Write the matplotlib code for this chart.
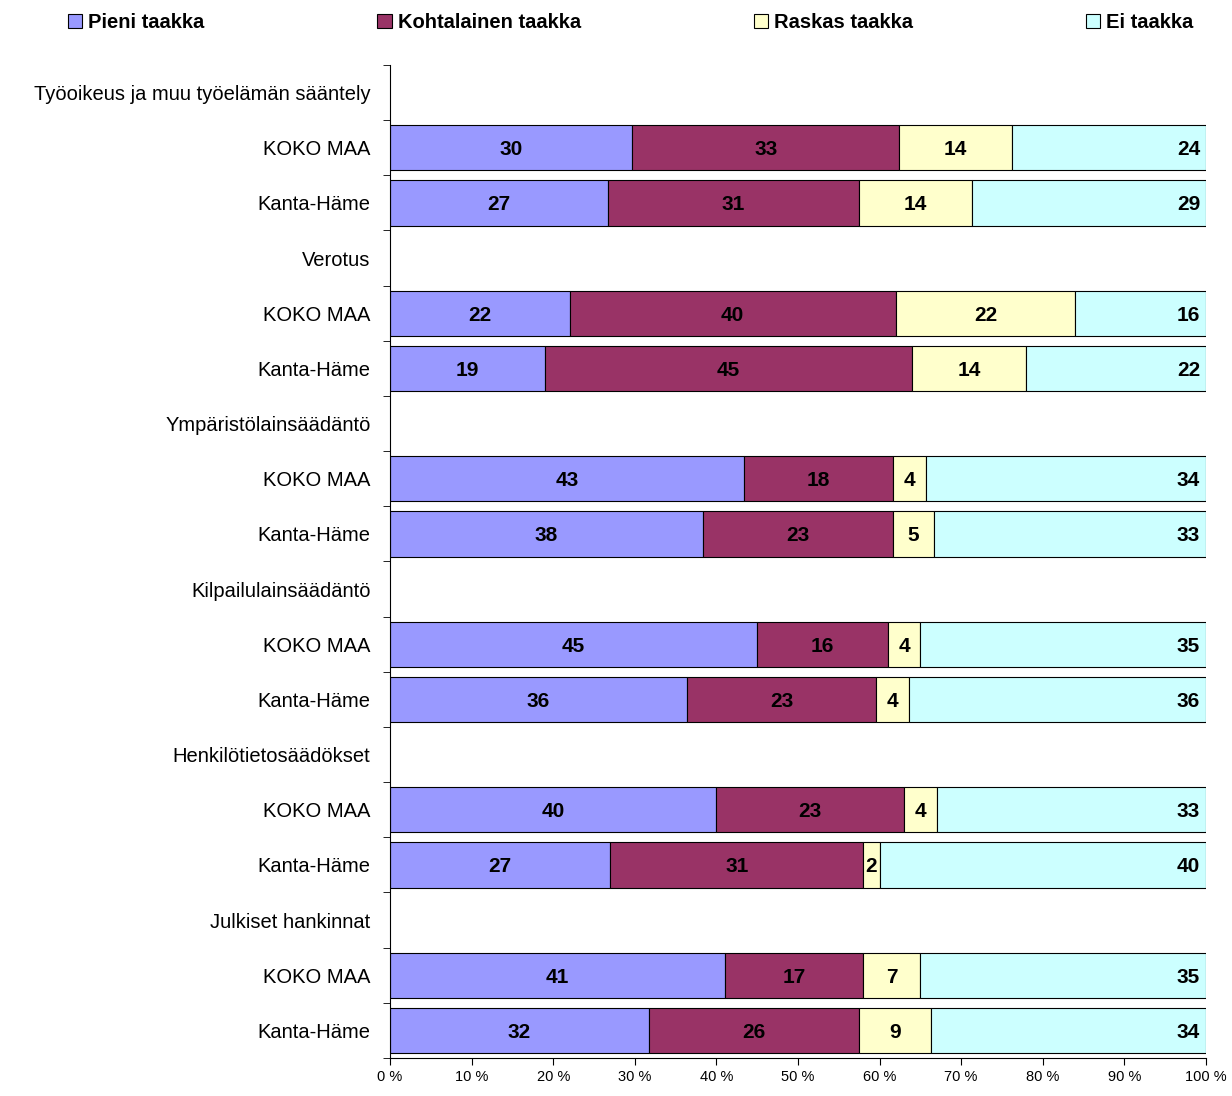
# Stacked percentage bars: burden of regulation, KOKO MAA vs Kanta-Häme.
import numpy as np
import matplotlib.pyplot as plt
from matplotlib.ticker import FuncFormatter, FixedLocator

plt.rcParams['font.family'] = ['Liberation Sans', 'DejaVu Sans']

# Data, top to bottom.
topics = ["Työoikeus ja muu työelämän sääntely", "Verotus", "Ympäristölainsäädäntö",
          "Kilpailulainsäädäntö", "Henkilötietosäädökset", "Julkiset hankinnat"]
regions = ["KOKO MAA", "Kanta-Häme"]
series = ["Pieni taakka", "Kohtalainen taakka", "Raskas taakka", "Ei taakka"]
colors = ["#9999FF", "#993366", "#FFFFCC", "#CCFFFF"]
pieni = [30, 27, 22, 19, 43, 38, 45, 36, 40, 27, 41, 32]
kohtalainen = [33, 31, 40, 45, 18, 23, 16, 23, 23, 31, 17, 26]
raskas = [14, 14, 22, 14, 4, 5, 4, 4, 4, 2, 7, 9]
ei = [24, 29, 16, 22, 34, 33, 35, 36, 33, 40, 35, 34]

values = np.array([pieni, kohtalainen, raskas, ei], dtype=float)
shares = values / values.sum(axis=0) * 100

fig = plt.figure(figsize=(12.32, 10.96), dpi=100)
ax = fig.add_axes([0.3166, 0.0347, 0.6622, 0.906])

# Row positions: each topic has a header row followed by two bar rows.
labels, bar_y = [], []
row = 0
for t in topics:
    labels.append(t)
    row += 1
    for r in regions:
        labels.append(r)
        bar_y.append(row)
        row += 1
bar_y = np.array(bar_y)

left = np.zeros(len(bar_y))
for k in range(4):
    ax.barh(bar_y, shares[k], left=left, height=0.82, color=colors[k],
            edgecolor="black", linewidth=0.8, label=series[k])
    for i in range(len(bar_y)):
        if k == 3:
            x = 99.3
            ha = "right"
        else:
            x = left[i] + shares[k][i] / 2
            ha = "center"
        ax.text(x, bar_y[i], f"{int(values[k][i])}", ha=ha, va="center_baseline",
                fontsize=15, fontweight="bold")
    left += shares[k]

ax.set_ylim(len(labels) - 0.5, -0.5)
ax.set_xlim(0, 100)
ax.set_yticks(range(len(labels)))
ax.set_yticklabels(labels, fontsize=14.5)
ax.tick_params(axis="y", length=0, pad=14)
ax.yaxis.set_minor_locator(FixedLocator(np.arange(-0.5, len(labels), 1)))
ax.tick_params(axis="y", which="minor", length=5)
ax.set_xticks(range(0, 101, 10))
ax.xaxis.set_major_formatter(FuncFormatter(lambda v, p: f"{int(v)} %"))
ax.tick_params(axis="x", labelsize=10.5, length=5)
for s in ["top", "right"]:
    ax.spines[s].set_visible(False)

fig.legend(loc="upper center", bbox_to_anchor=(0.512, 1.005), ncol=4,
           frameon=False, prop={"size": 14.5, "weight": "bold"},
           handlelength=0.7, handleheight=0.7, columnspacing=8.6, handletextpad=0.3)

fig.savefig("out.png", dpi=100)
